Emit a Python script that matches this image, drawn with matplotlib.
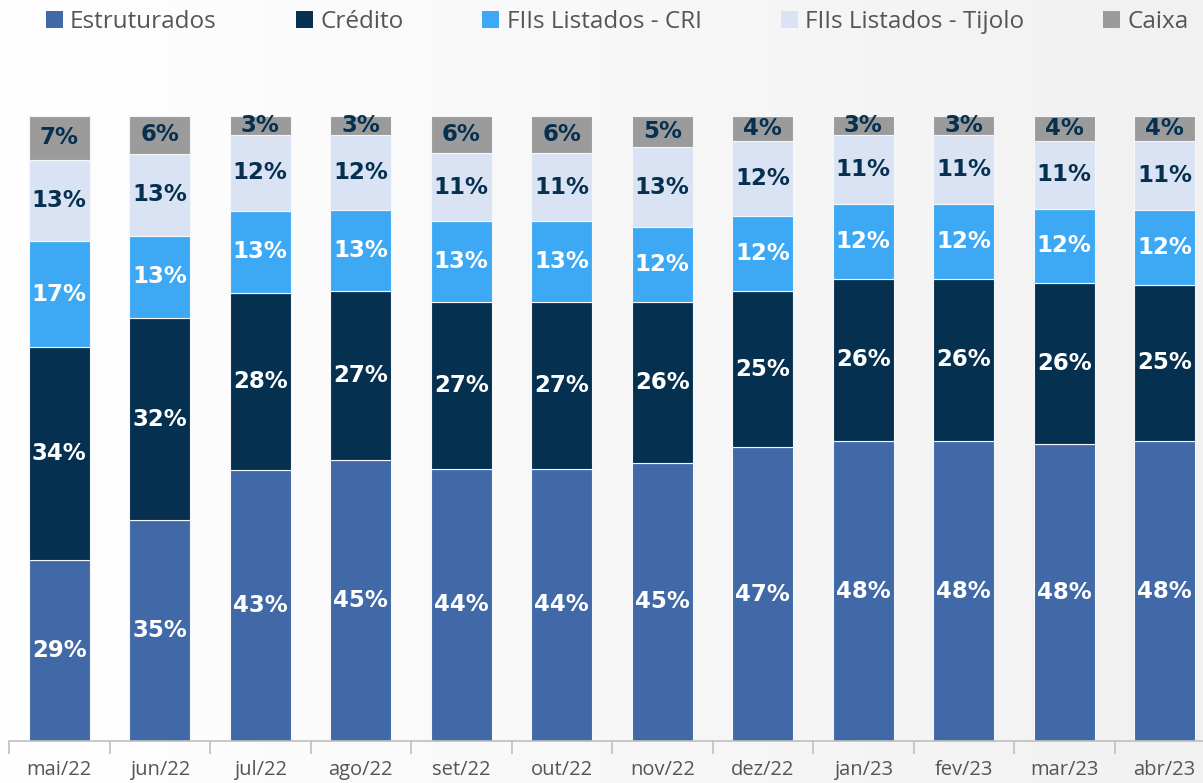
import numpy as np
import matplotlib.pyplot as plt
from matplotlib.patches import Patch

meses = ['mai/22', 'jun/22', 'jul/22', 'ago/22', 'set/22', 'out/22',
         'nov/22', 'dez/22', 'jan/23', 'fev/23', 'mar/23', 'abr/23']

estruturados = [29, 35, 43, 45, 44, 44, 45, 47, 48, 48, 48, 48]
credito = [34, 32, 28, 27, 27, 27, 26, 25, 26, 26, 26, 25]
fii_cri = [17, 13, 13, 13, 13, 13, 12, 12, 12, 12, 12, 12]
fii_tijolo = [13, 13, 12, 12, 11, 11, 13, 12, 11, 11, 11, 11]
caixa = [7, 6, 3, 3, 6, 6, 5, 4, 3, 3, 4, 4]

series = ['Estruturados', 'Crédito', 'FIIs Listados - CRI', 'FIIs Listados - Tijolo', 'Caixa']
cores = ['#4169A8', '#06304F', '#3DA9F5', '#DAE3F3', '#9B9B9B']
cor_texto = ['white', 'white', 'white', '#06304F', '#06304F']

dados = np.array([estruturados, credito, fii_cri, fii_tijolo, caixa], dtype=float)
alturas = dados / dados.sum(axis=0) * 100

fig = plt.figure(figsize=(12.03, 7.83), dpi=100)

# fundo em degradê suave
bg = fig.add_axes([0, 0, 1, 1], zorder=-1)
grad = np.linspace(0, 1, 256)[None, :]
bg.imshow(grad, aspect='auto', cmap=plt.matplotlib.colors.LinearSegmentedColormap.from_list(
    'g', ['#FFFFFF', '#F1F1F1']), extent=[0, 1, 0, 1])
bg.axis('off')

ax = fig.add_axes([9 / 1203, 42 / 783, 1206 / 1203, 625 / 783])
ax.patch.set_alpha(0)

x = np.arange(len(meses))
base = np.zeros(len(meses))
for i, nome in enumerate(series):
    ax.bar(x, alturas[i], 0.61, bottom=base, color=cores[i],
           edgecolor='#F4F6FA', linewidth=0.8, label=nome)
    for j in range(len(meses)):
        ax.text(x[j], base[j] + alturas[i][j] / 2, f'{int(dados[i][j])}%',
                ha='center', va='center', color=cor_texto[i],
                fontsize=16.5, fontweight='heavy', family='DejaVu Sans')
    base += alturas[i]

ax.set_xlim(-0.5, len(meses) - 0.5)
ax.set_ylim(0, 100)
ax.set_xticks(x)
ax.set_xticklabels(meses, fontsize=14.5, color='#555555', family='Open Sans')
ax.tick_params(axis='x', which='major', length=0, pad=14)
ax.set_xticks(np.arange(-0.5, len(meses), 1), minor=True)
ax.tick_params(axis='x', which='minor', length=9, color='#BFBFBF', width=1.2)
ax.set_yticks([])
for s in ['top', 'right', 'left']:
    ax.spines[s].set_visible(False)
ax.spines['bottom'].set_color('#BFBFBF')
ax.spines['bottom'].set_linewidth(1.2)

handles = [Patch(facecolor=c, label=n) for c, n in zip(cores, series)]
fig.legend(handles=handles, loc='center', bbox_to_anchor=(0.513, 0.972), ncol=5,
           frameon=False, handlelength=0.7, handleheight=0.7, handletextpad=0.3,
           columnspacing=3.25, prop={'family': 'Open Sans', 'size': 17.5},
           labelcolor='#555555')

fig.savefig('out.png', dpi=100)
